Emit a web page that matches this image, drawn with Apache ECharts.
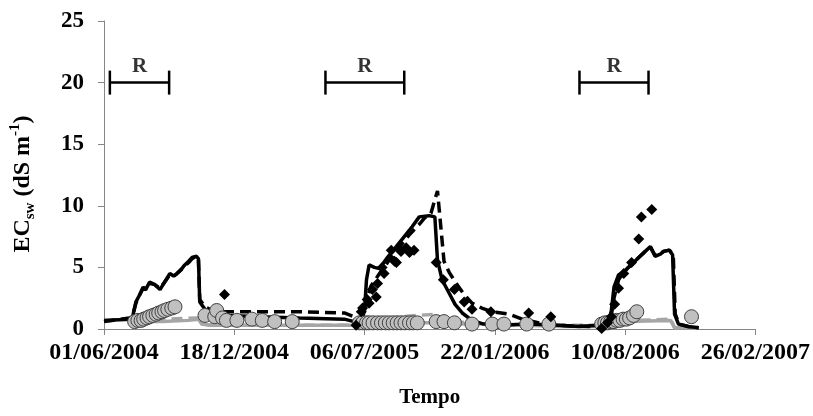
<!DOCTYPE html>
<html>
<head>
<meta charset="utf-8">
<script src="https://cdn.jsdelivr.net/npm/echarts@6/dist/echarts.min.js"></script>
<style>
  html, body { margin: 0; padding: 0; background: #fff; }
  #chart { width: 813px; height: 416px; }
</style>
</head>
<body>
<div id="chart"></div>
<script>
// x values are days counted from 01/06/2004
const xTickLabels = ["01/06/2004", "18/12/2004", "06/07/2005", "22/01/2006", "10/08/2006", "26/02/2007"];

// irrigation periods (R), start / end day
const rPeriods = [[9, 100], [340, 461], [730, 836]];

// simulated, black solid
const simSolid = [
  [0, 0.7], [40, 0.8], [44, 1.0], [49, 2.2], [55, 2.8], [60, 3.4], [64, 3.2], [70, 3.8],
  [78, 3.6], [86, 3.2], [93, 3.8], [101, 4.5], [107, 4.3], [112, 4.5], [118, 4.8],
  [124, 5.2], [130, 5.5], [135, 5.8], [142, 5.9], [145, 5.7], [147, 2.2], [155, 1.6],
  [165, 1.3], [193, 1.1], [239, 1.0], [300, 0.9], [369, 0.8], [384, 0.6], [395, 0.6],
  [400, 1.5], [403, 4.0], [407, 5.2], [415, 5.0], [423, 4.9], [435, 5.8], [449, 6.7],
  [461, 7.5], [473, 8.3], [484, 9.1], [499, 9.2], [508, 9.1], [512, 5.6], [519, 4.0],
  [530, 2.9], [539, 2.0], [550, 1.3], [565, 0.7], [583, 0.4], [606, 0.3], [652, 0.4],
  [698, 0.3], [729, 0.2], [760, 0.3], [775, 0.6], [779, 1.5], [783, 3.4], [790, 4.4],
  [798, 4.6], [805, 5.0], [813, 5.4], [821, 5.8], [831, 6.3], [839, 6.7], [846, 5.9],
  [855, 6.1], [859, 6.3], [868, 6.4], [873, 6.0], [876, 1.2], [882, 0.4], [897, 0.2],
  [913, 0.1]
];

// simulated, black dashed
const simDashed = [
  [0, 0.6], [40, 0.9], [44, 1.1], [49, 2.1], [55, 2.8], [60, 3.3], [64, 3.2], [70, 3.7],
  [78, 3.6], [86, 3.3], [93, 3.8], [101, 4.4], [107, 4.3], [112, 4.5], [118, 4.8],
  [124, 5.1], [130, 5.4], [135, 5.7], [142, 5.9], [145, 5.6], [147, 2.4], [155, 1.8],
  [170, 1.4], [239, 1.4], [300, 1.4], [369, 1.3], [384, 1.0], [395, 0.6], [401, 2.0],
  [410, 3.5], [423, 4.5], [438, 5.6], [453, 6.6], [468, 7.6], [484, 8.5], [492, 9.0],
  [502, 9.4], [508, 10.5], [512, 11.2], [515, 9.5], [522, 5.5], [530, 4.6], [542, 3.6],
  [553, 2.8], [565, 2.1], [580, 1.7], [596, 1.4], [622, 1.2], [642, 0.8], [668, 0.5],
  [698, 0.3], [744, 0.2], [767, 0.3], [778, 0.8], [783, 2.5], [790, 4.0], [798, 4.6],
  [805, 5.0], [813, 5.4], [821, 5.8], [831, 6.3], [839, 6.6], [846, 6.0], [855, 6.1],
  [859, 6.3], [868, 6.4], [874, 6.0], [877, 1.2], [883, 0.4], [897, 0.2], [913, 0.1]
];

// simulated, gray solid
const graySolid = [
  [0, 0.7], [40, 0.8], [60, 0.6], [90, 0.6], [130, 0.7], [145, 0.8], [150, 0.4],
  [165, 0.3], [300, 0.3], [380, 0.3], [400, 0.4], [450, 0.5], [510, 0.5], [520, 0.4],
  [600, 0.4], [700, 0.2], [760, 0.2], [780, 0.5], [800, 0.6], [870, 0.7], [876, 0.1],
  [913, 0.1]
];

// simulated, gray dashed
const grayDashed = [
  [0, 0.6], [40, 0.9], [60, 0.7], [100, 0.8], [145, 0.9], [150, 0.4], [165, 0.3],
  [380, 0.3], [400, 0.6], [440, 0.9], [480, 1.1], [510, 1.2], [520, 0.7], [560, 0.5],
  [620, 0.3], [700, 0.3], [760, 0.3], [780, 0.6], [820, 0.7], [870, 0.8], [876, 0.1],
  [913, 0.1]
];

// observed, black diamonds
const obsBlack = [
  [185, 2.8], [387, 0.3], [395, 1.4], [397, 1.7], [404, 2.4], [407, 2.1], [412, 3.2],
  [418, 2.6], [420, 3.7], [427, 5.0], [430, 4.5], [441, 6.4], [446, 5.5], [449, 5.4],
  [456, 6.3], [464, 6.6], [469, 6.2], [476, 6.4], [510, 5.4], [521, 4.0], [538, 3.2],
  [553, 2.2], [565, 1.6], [594, 1.4], [652, 1.3], [686, 1.0], [764, 0.05], [773, 0.5],
  [779, 1.0], [784, 2.0], [790, 3.3], [798, 4.5], [810, 5.4], [821, 7.3], [825, 9.1],
  [841, 9.7]
];

// observed, gray circles
const obsGray = [
  [47, 0.6], [52, 0.7], [57, 0.7], [61, 0.8], [66, 0.9], [70, 1.0], [75, 1.1], [80, 1.2],
  [84, 1.3], [89, 1.4], [93, 1.5], [98, 1.6], [104, 1.7], [109, 1.8],
  [155, 1.1], [170, 1.0], [173, 1.5], [182, 0.9], [188, 0.7], [204, 0.7], [227, 0.8],
  [243, 0.7], [262, 0.6], [289, 0.6],
  [392, 0.5], [397, 0.5], [403, 0.5], [407, 0.5], [413, 0.5], [420, 0.5], [426, 0.5],
  [432, 0.5], [438, 0.5], [444, 0.5], [450, 0.5], [456, 0.5], [462, 0.5], [469, 0.5],
  [475, 0.5], [481, 0.5],
  [510, 0.6], [522, 0.6], [538, 0.5], [565, 0.4], [596, 0.4], [614, 0.4], [649, 0.4],
  [683, 0.4],
  [764, 0.4], [769, 0.5], [773, 0.5], [778, 0.6], [783, 0.6], [787, 0.7], [792, 0.7],
  [797, 0.8], [802, 0.8], [807, 0.9], [813, 1.1], [818, 1.4], [902, 1.0]
];

const font = "Liberation Serif, Times New Roman, serif";
const chart = echarts.init(document.getElementById("chart"));

const rSeries = rPeriods.map(p => ({
  type: "line",
  data: [[p[0], 20], [p[1], 20]],
  symbol: "rect",
  symbolSize: [2.5, 24],
  itemStyle: { color: "#000" },
  lineStyle: { color: "#000", width: 2.5 },
  silent: true,
  z: 5
}));

chart.setOption({
  animation: false,
  backgroundColor: "#fff",
  grid: { left: 104, right: 56, top: 21, bottom: 87, containLabel: false },
  xAxis: {
    type: "value",
    min: 0,
    max: 1000,
    interval: 200,
    name: "Tempo",
    nameLocation: "middle",
    nameGap: 58,
    nameTextStyle: { fontFamily: font, fontWeight: "bold", fontSize: 21, color: "#000" },
    axisLine: { show: true, lineStyle: { color: "#868686", width: 1 } },
    axisTick: { show: true, length: 6, lineStyle: { color: "#868686" } },
    axisLabel: {
      margin: 12,
      fontFamily: font, fontWeight: "bold", fontSize: 24, color: "#000",
      showMinLabel: true, showMaxLabel: true,
      formatter: v => xTickLabels[Math.round(v / 200)]
    },
    splitLine: { show: false }
  },
  yAxis: {
    type: "value",
    min: 0,
    max: 25,
    interval: 5,
    name: "{a|EC}{b|sw}{a| (dS m}{c|-1}{a|)}",
    nameLocation: "middle",
    nameRotate: 90,
    nameGap: 66,
    nameTextStyle: {
      padding: [0, 18, 0, 0],
      rich: {
        a: { fontFamily: font, fontWeight: "bold", fontSize: 24, lineHeight: 30, color: "#000" },
        b: { fontFamily: font, fontWeight: "bold", fontSize: 15, lineHeight: 16, verticalAlign: "bottom", color: "#000" },
        c: { fontFamily: font, fontWeight: "bold", fontSize: 15, lineHeight: 16, verticalAlign: "top", color: "#000" }
      }
    },
    axisLine: { show: true, lineStyle: { color: "#868686", width: 1 } },
    axisTick: { show: true, length: 6, lineStyle: { color: "#868686" } },
    axisLabel: { margin: 20, fontFamily: font, fontWeight: "bold", fontSize: 23, color: "#000" },
    splitLine: { show: false }
  },
  series: [
    {
      type: "line", data: graySolid, showSymbol: false, symbol: "none",
      lineStyle: { color: "#a6a6a6", width: 3.5 }, z: 1
    },
    {
      type: "line", data: grayDashed, showSymbol: false, symbol: "none",
      lineStyle: { color: "#a6a6a6", width: 3.5, type: [11, 6] }, z: 1
    },
    {
      type: "line", data: simSolid, showSymbol: false, symbol: "none",
      lineStyle: { color: "#000", width: 3.5 }, z: 2
    },
    {
      type: "line", data: simDashed, showSymbol: false, symbol: "none",
      lineStyle: { color: "#000", width: 3.5, type: [11, 6] }, z: 2
    },
    {
      type: "scatter", data: obsGray, symbol: "circle", symbolSize: 14,
      itemStyle: { color: "#c0c0c0", borderColor: "#404040", borderWidth: 1, opacity: 1 }, z: 3
    },
    {
      type: "scatter", data: obsBlack, symbol: "diamond", symbolSize: 11,
      itemStyle: { color: "#000", opacity: 1 }, z: 4
    },
    ...rSeries,
    {
      type: "scatter",
      data: rPeriods.map(p => [(p[0] + p[1]) / 2, 20]),
      symbolSize: 0,
      silent: true,
      label: {
        show: true, position: "top", distance: 6, formatter: "R",
        fontFamily: font, fontWeight: "bold", fontSize: 21, color: "#000"
      },
      z: 5
    }
  ]
});
</script>
</body>
</html>
